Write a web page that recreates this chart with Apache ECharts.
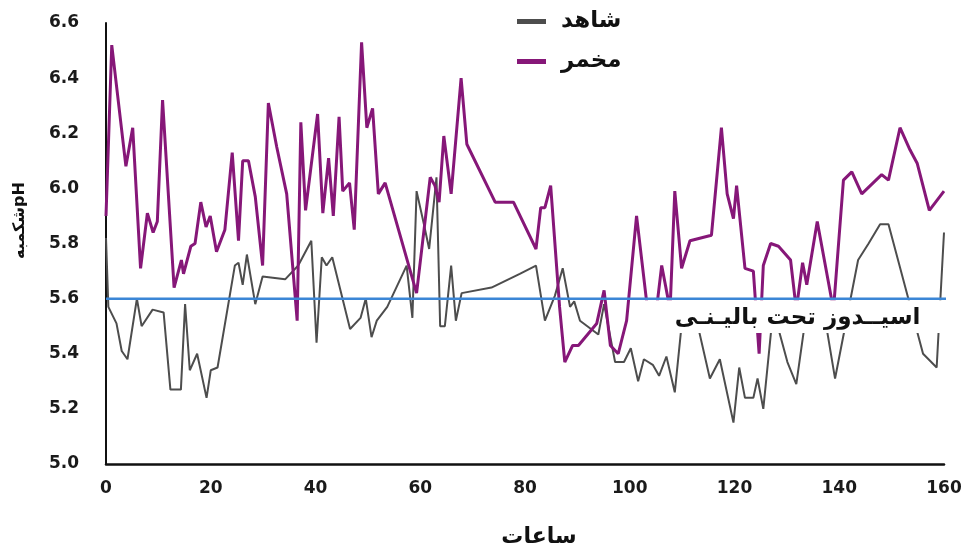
<!DOCTYPE html>
<html>
<head>
<meta charset="utf-8">
<script src="https://cdn.jsdelivr.net/npm/echarts@6/dist/echarts.min.js"></script>
<style>
html,body{margin:0;padding:0;background:#fff;}
#chart{width:968px;height:549px;}
</style>
</head>
<body>
<div id="chart"></div>
<script>
// ---- data ----
var xTicks = [0, 20, 40, 60, 80, 100, 120, 140, 160];
var yTicks = [5.0, 5.2, 5.4, 5.6, 5.8, 6.0, 6.2, 6.4, 6.6];
var seriesNames = ['شاهد', 'مخمر'];
var thresholdValue = 5.6;
var thresholdLabel = 'اسیــدوز تحت بالیـنـی';
var xName = 'ساعات';
var yName = 'شکمبهpH';

// شاهد (control) — [hour, pH]
var controlData = [
  [0,5.82],[0.45,5.57],[2.0,5.51],[3.0,5.41],[4.1,5.38],[5.9,5.6],[6.8,5.5],[8.9,5.56],
  [11.0,5.55],[12.3,5.27],[14.3,5.27],[15.1,5.58],[16.0,5.34],[17.4,5.4],[19.2,5.24],
  [20.0,5.34],[21.3,5.35],[24.6,5.72],[25.3,5.73],[26.1,5.65],[26.9,5.76],[28.5,5.58],
  [29.9,5.68],[34.2,5.67],[36.7,5.72],[39.2,5.81],[40.2,5.44],[41.2,5.75],[42.1,5.72],
  [43.2,5.75],[46.6,5.49],[48.6,5.53],[49.6,5.6],[50.7,5.46],[51.7,5.52],[53.7,5.57],
  [57.4,5.72],[58.5,5.53],[59.3,5.99],[60.7,5.87],[61.7,5.78],[63.1,6.04],[63.8,5.5],
  [64.7,5.5],[65.9,5.72],[66.8,5.52],[67.9,5.62],[73.6,5.64],[79.0,5.69],[82.1,5.72],
  [83.8,5.52],[85.7,5.61],[87.2,5.71],[88.6,5.57],[89.4,5.59],[90.5,5.52],[94.0,5.47],
  [95.1,5.58],[97.2,5.37],[98.9,5.37],[100.2,5.42],[101.6,5.3],[102.7,5.38],[104.4,5.36],
  [105.6,5.32],[107.0,5.39],[108.6,5.26],[110.2,5.56],[112.3,5.56],[115.3,5.31],
  [117.2,5.38],[119.8,5.15],[120.9,5.35],[122.0,5.24],[123.6,5.24],[124.4,5.31],
  [125.5,5.2],[127.4,5.56],[130.1,5.37],[131.8,5.29],[133.8,5.56],[137.0,5.56],
  [139.2,5.31],[143.6,5.74],[145.6,5.8],[147.8,5.87],[149.4,5.87],[156.0,5.4],
  [158.6,5.35],[160.0,5.84]
];

// مخمر (yeast) — [hour, pH]
var yeastData = [
  [0,5.9],[1.1,6.52],[3.8,6.08],[5.1,6.22],[6.6,5.71],[7.9,5.91],[9.0,5.84],[9.8,5.88],
  [10.8,6.32],[13.0,5.64],[14.4,5.74],[14.8,5.69],[16.2,5.79],[17.0,5.8],[18.1,5.95],
  [19.1,5.86],[19.9,5.9],[21.1,5.77],[22.7,5.85],[24.1,6.13],[25.3,5.81],[26.1,6.1],
  [27.2,6.1],[28.5,5.97],[29.9,5.72],[31.0,6.31],[32.6,6.15],[34.5,5.98],[36.5,5.52],
  [37.2,6.24],[38.1,5.92],[40.4,6.27],[41.4,5.91],[42.5,6.11],[43.4,5.9],[44.5,6.26],
  [45.2,5.99],[46.5,6.02],[47.4,5.85],[48.8,6.53],[49.8,6.22],[50.9,6.29],[52.0,5.98],
  [53.3,6.02],[59.3,5.62],[61.9,6.04],[62.8,6.01],[63.6,5.95],[64.5,6.19],[65.9,5.98],
  [67.8,6.4],[68.9,6.16],[74.3,5.95],[77.8,5.95],[82.1,5.78],[83.0,5.93],[83.8,5.93],
  [84.9,6.01],[86.6,5.57],[87.6,5.37],[89.1,5.43],[90.2,5.43],[93.7,5.51],[95.1,5.63],
  [96.3,5.43],[97.8,5.4],[99.4,5.52],[101.3,5.9],[103.4,5.56],[105.1,5.56],[106.1,5.72],
  [107.7,5.56],[108.6,5.99],[109.9,5.71],[111.5,5.81],[115.6,5.83],[117.5,6.22],
  [118.6,5.98],[119.8,5.89],[120.4,6.01],[122.0,5.71],[123.6,5.7],[124.7,5.4],
  [125.5,5.72],[126.9,5.8],[128.4,5.79],[130.7,5.74],[131.8,5.56],[133.0,5.73],
  [133.8,5.65],[135.8,5.88],[138.9,5.56],[140.8,6.03],[142.4,6.06],[144.3,5.98],
  [148.1,6.05],[149.4,6.03],[151.6,6.22],[153.5,6.14],[154.9,6.09],[157.2,5.92],[160.0,5.99]
];

var thresholdLine = [[0, thresholdValue], [161.5, thresholdValue]];

var FONT = 'DejaVu Sans';
var chart = echarts.init(document.getElementById('chart'), null, {renderer: 'canvas'});
var option = {
  backgroundColor: '#ffffff',
  animation: false,
  grid: {left: 106, right: 24, top: 23, bottom: 85, containLabel: false, outerBoundsMode: 'none'},
  legend: {
    data: seriesNames,
    orient: 'vertical',
    left: 517,
    top: 10,
    icon: 'rect',
    itemWidth: 29,
    itemHeight: 5,
    itemGap: 17,
    padding: 0,
    textStyle: {fontFamily: FONT, fontWeight: 'bold', fontSize: 23, color: '#111', padding: [0, 0, 0, 10]}
  },
  xAxis: {
    type: 'value',
    min: xTicks[0],
    max: xTicks[xTicks.length - 1],
    interval: 20,
    name: xName,
    nameLocation: 'middle',
    nameGap: 62,
    nameTextStyle: {fontFamily: FONT, fontWeight: 'bold', fontSize: 22, color: '#111', padding: [0, 0, 0, 28]},
    axisLine: {show: true, lineStyle: {color: '#111', width: 2.5}},
    axisTick: {show: false},
    splitLine: {show: false},
    axisLabel: {fontFamily: FONT, fontWeight: 'bold', fontSize: 17, color: '#1a1a1a', margin: 16}
  },
  yAxis: {
    type: 'value',
    min: yTicks[0],
    max: yTicks[yTicks.length - 1],
    interval: 0.2,
    name: yName,
    nameLocation: 'middle',
    nameRotate: 90,
    nameGap: 78,
    nameTextStyle: {fontFamily: FONT, fontWeight: 'bold', fontSize: 16, color: '#111', padding: [0, 0, 0, 46]},
    axisLine: {show: true, lineStyle: {color: '#111', width: 2}},
    axisTick: {show: false},
    splitLine: {show: false},
    axisLabel: {fontFamily: FONT, fontWeight: 'bold', fontSize: 17, color: '#1a1a1a', margin: 27,
      formatter: function (v) { return v.toFixed(1); }}
  },
  series: [
    {
      name: seriesNames[0], type: 'line', data: controlData, symbol: 'none', z: 2,
      itemStyle: {color: '#4d4d4d'},
      lineStyle: {color: '#4d4d4d', width: 2}
    },
    {
      name: seriesNames[1], type: 'line', data: yeastData, symbol: 'none', z: 3,
      itemStyle: {color: '#861778'},
      lineStyle: {color: '#861778', width: 3}
    },
    {
      name: 'threshold', type: 'line', data: thresholdLine, symbol: 'none', z: 20, clip: false, silent: true,
      lineStyle: {color: '#3b86d6', width: 2.5}
    }
  ]
};
chart.setOption(option);

// label box under the threshold line, positioned through the axis scales
var pTL = chart.convertToPixel({gridIndex: 0}, [100.2, 5.594]);
var pBR = chart.convertToPixel({gridIndex: 0}, [159.7, 5.475]);
var pText = chart.convertToPixel({gridIndex: 0}, [155.5, 5.53]);
chart.setOption({
  graphic: [
    {type: 'rect', z: 10, silent: true,
     shape: {x: pTL[0], y: pTL[1], width: pBR[0] - pTL[0], height: pBR[1] - pTL[1]},
     style: {fill: '#ffffff'}},
    {type: 'text', z: 30, silent: true, x: pText[0], y: pText[1],
     style: {text: thresholdLabel, fill: '#111', font: 'bold 23px "DejaVu Sans"', align: 'right', verticalAlign: 'middle'}}
  ]
});
</script>
</body>
</html>
